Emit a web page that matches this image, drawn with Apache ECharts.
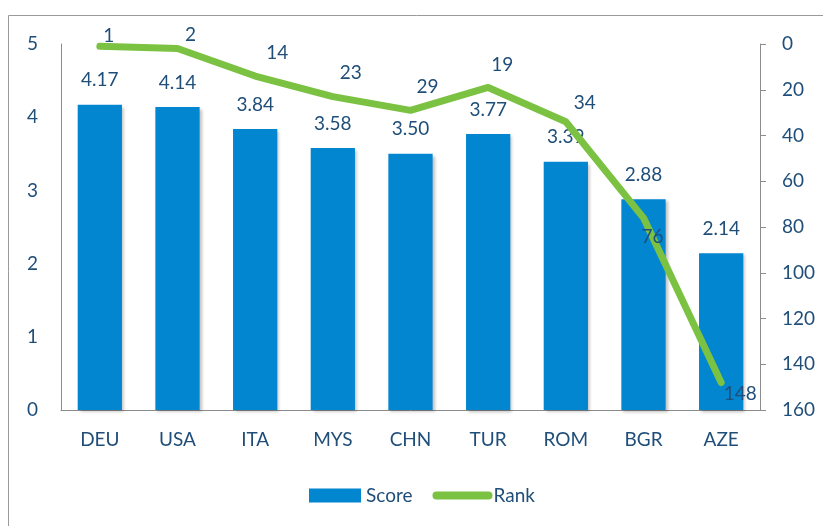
<!DOCTYPE html>
<html lang="en">
<head>
    <meta charset="UTF-8">
    <script src="https://cdn.jsdelivr.net/npm/echarts@6/dist/echarts.min.js"></script>
    <title>Score and Rank</title>
    <style>
        html, body { margin: 0; padding: 0; background: #fff; }
        #main { width: 823px; height: 526px; }
    </style>
</head>
<body>
    <div id="main"></div>
    <script type="text/javascript">
        let countries = ['DEU', 'USA', 'ITA', 'MYS', 'CHN', 'TUR', 'ROM', 'BGR', 'AZE'];
        let scores = [4.17, 4.14, 3.84, 3.58, 3.50, 3.77, 3.39, 2.88, 2.14];
        let ranks = [1, 2, 14, 23, 29, 19, 34, 76, 148];
        // where each rank label sits relative to its point (px)
        let rankLabelShift = [[9, -10], [13, -14], [22, -23], [18, -24], [17, -23], [14, -23], [19, -19], [9, 19], [19, 11]];

        let textColor = '#1F4E79';
        let fontFamily = 'Lato';
        let fontSize = 19;

        let myChart = echarts.init(document.getElementById('main'));

        let option = {
            animation: false,
            textStyle: { fontFamily: fontFamily },
            graphic: [{
                type: 'rect',
                shape: { x: 8.5, y: 15.5, width: 840, height: 540 },
                style: { fill: 'none', stroke: '#9a9a9a', lineWidth: 1 },
                silent: true
            }],
            grid: { left: 61, right: 63, top: 44, bottom: 116 },
            legend: {
                bottom: 16,
                left: 304,
                itemWidth: 52,
                itemHeight: 14,
                itemGap: 20,
                textStyle: { color: textColor, fontSize: fontSize, fontFamily: fontFamily },
                data: [
                    { name: 'Score', icon: 'rect' },
                    { name: 'Rank', itemStyle: { opacity: 0 }, lineStyle: { width: 8, cap: 'round' } }
                ]
            },
            xAxis: {
                type: 'category',
                data: countries,
                axisLine: { lineStyle: { color: '#8c8c8c', width: 1 } },
                axisTick: { show: false },
                axisLabel: { color: textColor, fontSize: fontSize, margin: 20 }
            },
            yAxis: [{
                type: 'value',
                min: 0,
                max: 5,
                interval: 1,
                splitLine: { show: false },
                axisLine: { show: true, lineStyle: { color: '#8c8c8c', width: 1 } },
                axisTick: { show: false },
                axisLabel: { color: textColor, fontSize: fontSize, margin: 23 }
            }, {
                type: 'value',
                min: 0,
                max: 160,
                interval: 20,
                inverse: true,
                splitLine: { show: false },
                axisLine: { show: true, lineStyle: { color: '#8c8c8c', width: 1 } },
                axisTick: { show: true, length: 6, lineStyle: { color: '#8c8c8c' } },
                axisLabel: { color: textColor, fontSize: fontSize, margin: 22 }
            }],
            series: [{
                name: 'Score',
                type: 'bar',
                data: scores,
                barCategoryGap: '43%',
                itemStyle: {
                    color: '#0386D0',
                    shadowBlur: 3,
                    shadowColor: 'rgba(0,0,0,0.25)',
                    shadowOffsetX: 2,
                    shadowOffsetY: 2
                },
                label: {
                    show: true,
                    position: 'top',
                    distance: 15,
                    color: textColor,
                    fontSize: fontSize,
                    formatter: function (p) {
                        return p.value.toFixed(2);
                    }
                }
            }, {
                name: 'Rank',
                type: 'line',
                yAxisIndex: 1,
                data: ranks.map(function (r, i) {
                    return { value: r, label: { offset: rankLabelShift[i] } };
                }),
                symbol: 'circle',
                symbolSize: 1,
                itemStyle: { color: '#7CC242' },
                lineStyle: { color: '#7CC242', width: 7, cap: 'round', join: 'round' },
                label: {
                    show: true,
                    position: 'inside',
                    align: 'center',
                    verticalAlign: 'middle',
                    color: textColor,
                    fontSize: fontSize
                },
                z: 3
            }]
        };

        myChart.setOption(option);
    </script>
</body>
</html>
